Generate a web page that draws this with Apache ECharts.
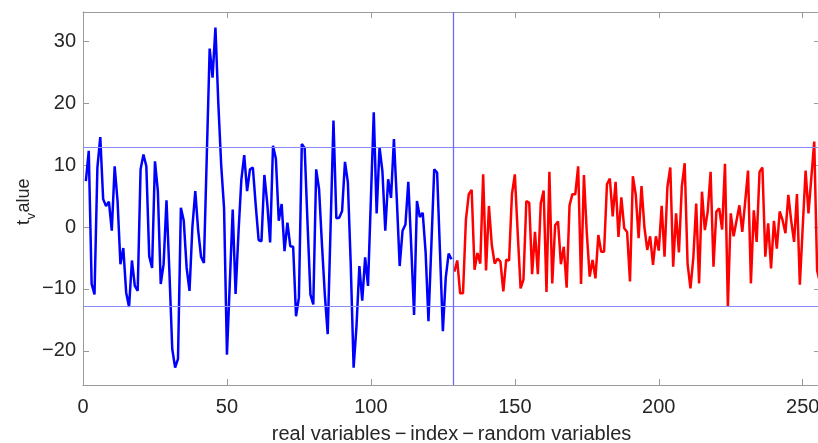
<!DOCTYPE html>
<html><head><meta charset="utf-8">
<script src="https://cdn.jsdelivr.net/npm/echarts@6/dist/echarts.min.js"></script>
<style>html,body{margin:0;padding:0;background:#fff}#c{width:818px;height:443px}</style>
</head><body><div id="c"></div>
<script>
// t values of the real variables (index 1..128)
const blueValues = [
  7.4, 12.3, -9.2, -10.9, 9.6, 14.5, 4.5, 3.4, 4.1, -0.6,
  9.8, 4.2, -6.0, -3.4, -10.6, -12.9, -5.4, -9.5, -10.3, 9.3,
  11.7, 9.8, -4.7, -6.6, 10.6, 5.8, -9.2, -6.0, 4.3, -7.1,
  -19.7, -22.7, -21.3, 3.1, 1.0, -6.6, -10.3, 0.0, 5.8, -0.5,
  -4.8, -5.8, 11.5, 28.8, 24.1, 32.2, 20.0, 10.0, 3.0, -20.6,
  -9.0, 2.8, -10.8, -1.0, 7.6, 11.6, 5.8, 9.3, 9.6, 3.5,
  -2.1, -2.3, 8.4, 3.8, -2.5, 13.1, 11.0, 1.0, 3.7, -3.9,
  0.7, -3.1, -3.2, -14.4, -11.4, 13.4, 12.7, 0.5, -10.9, -12.5,
  9.3, 6.1, -2.8, -10.9, -17.3, 0.0, 17.2, 1.4, 1.5, 2.6,
  10.5, 7.2, -6.0, -22.7, -16.0, -6.3, -11.9, -4.9, -9.5, 4.5,
  18.5, 2.2, 12.9, 9.0, -0.6, 7.7, 4.7, 14.2, 4.5, -6.3,
  -0.6, 0.4, 7.3, -3.0, -14.2, 4.2, 1.6, 2.3, -4.0, -15.2,
  -3.0, 9.3, 8.8, -4.0, -16.8, -8.2, -4.3, -5.2
];
// t values of the random variables (index 129..256)
const redValues = [
  -7.2, -5.4, -10.7, -10.7, 1.1, 5.3, 6.0, -6.9, -4.2, -5.9,
  8.5, -7.0, 3.4, -2.9, -5.9, -5.1, -5.6, -10.4, -5.3, -5.4,
  5.3, 8.5, -1.0, -9.9, -8.5, 4.2, 3.9, -7.6, -0.8, -7.6,
  3.8, 5.9, -10.5, 8.9, -9.1, 0.3, 0.9, -6.0, -3.2, -9.8,
  3.5, 5.3, 5.3, 9.8, -9.2, 8.4, -1.0, -8.0, -5.3, -8.3,
  -1.3, -4.0, -4.0, 6.9, 7.8, 1.7, 7.3, -1.6, 4.8, -0.2,
  -0.8, -8.8, 8.2, 5.2, -1.8, 6.6, 0.0, -3.7, -1.5, -6.1,
  -1.5, -3.8, 3.4, -4.8, 6.5, 9.6, -6.4, 2.2, -4.1, 6.5,
  10.3, -5.9, -9.9, -5.0, 3.8, -9.1, 5.7, -0.5, 2.5, 8.9,
  -6.4, 2.5, 3.0, -0.4, 10.2, -12.9, 2.2, -1.5, 1.0, 3.5,
  -0.8, 4.0, 9.1, -9.1, 2.7, -2.4, 8.9, 9.6, -4.8, 0.6,
  -6.7, 1.0, -3.5, 2.5, 1.1, -1.0, 5.2, 1.0, -2.4, 5.3,
  -9.3, 0.0, 9.1, 2.2, 8.0, 13.8, -7.0, -9.0
];
const xTickValues = [0, 50, 100, 150, 200, 250];
const yTickValues = [-20, -10, 0, 10, 20, 30];
const thresholdValues = [12.8, -12.8];
const splitPosition = 128.5;
const xLabel = 'real variables\u2009\u2212\u2009index\u2009\u2212\u2009random variables';

const blueData = blueValues.map((v, i) => [i + 1, v]);
const redData = redValues.map((v, i) => [blueValues.length + i + 1, v]);

const FONT = '"Liberation Sans", Arial, Helvetica, sans-serif';
const TXT = '#262626';
const FRAME = '#9a9a9a';
const minusFmt = v => String(v).replace('-', '\u2212');

function xAx(pos, labels) {
  return {
    type: 'value', min: 0, max: 256, position: pos,
    axisLine: { show: true, onZero: false, lineStyle: { color: FRAME, width: 1 } },
    axisTick: { show: true, inside: true, length: 6, customValues: xTickValues, lineStyle: { color: FRAME } },
    axisLabel: { show: labels, customValues: xTickValues, color: TXT, fontSize: 20, fontFamily: FONT, margin: 12, formatter: minusFmt },
    splitLine: { show: false }
  };
}
function yAx(pos, labels) {
  return {
    type: 'value', min: -25.5, max: 34.7, position: pos,
    axisLine: { show: true, onZero: false, lineStyle: { color: FRAME, width: 1 } },
    axisTick: { show: true, inside: true, length: 6, customValues: yTickValues, lineStyle: { color: FRAME } },
    axisLabel: { show: labels, customValues: yTickValues, color: TXT, fontSize: 20, fontFamily: FONT, margin: 7, formatter: minusFmt },
    splitLine: { show: false }
  };
}

const xMain = xAx('bottom', true);
xMain.name = xLabel;
xMain.nameLocation = 'middle';
xMain.nameGap = 39;
xMain.nameTextStyle = { color: TXT, fontSize: 20, fontFamily: FONT };

const chart = echarts.init(document.getElementById('c'), null, { renderer: 'canvas' });
chart.setOption({
  animation: false,
  backgroundColor: '#fff',
  grid: { left: 83, top: 12, width: 737, height: 373, containLabel: false, outerBoundsMode: 'none' },
  xAxis: [xMain, xAx('top', false)],
  yAxis: [yAx('left', true), yAx('right', false)],
  graphic: [{
    type: 'group', x: 29, y: 225, rotation: Math.PI / 2,
    children: [
      { type: 'text', x: 0, y: 4, style: { text: 't', fontSize: 18, fontFamily: FONT, fill: TXT, align: 'left', verticalAlign: 'bottom' } },
      { type: 'text', x: 5.5, y: 9, style: { text: 'v', fontSize: 13, fontFamily: FONT, fill: TXT, align: 'left', verticalAlign: 'bottom' } },
      { type: 'text', x: 12.5, y: 4, style: { text: 'alue', fontSize: 18, fontFamily: FONT, fill: TXT, align: 'left', verticalAlign: 'bottom' } }
    ]
  }],
  series: [
    {
      type: 'line', data: [], z: 1,
      markLine: {
        silent: true, symbol: ['none', 'none'], label: { show: false }, animation: false,
        lineStyle: { color: '#8888ff', width: 1, type: 'solid', opacity: 1 },
        data: thresholdValues.map(v => ({ yAxis: v }))
      }
    },
    {
      type: 'line', data: [], z: 1,
      markLine: {
        silent: true, symbol: ['none', 'none'], label: { show: false }, animation: false,
        lineStyle: { color: '#6a6aff', width: 1.3, type: 'solid', opacity: 1 },
        data: [{ xAxis: splitPosition }]
      }
    },
    {
      type: 'line', data: blueData, showSymbol: false, z: 3,
      lineStyle: { color: '#0000ff', width: 2.5 }, itemStyle: { color: '#0000ff' }
    },
    {
      type: 'line', data: redData, showSymbol: false, z: 3,
      lineStyle: { color: '#ff0000', width: 2.5 }, itemStyle: { color: '#ff0000' }
    }
  ]
});
</script></body></html>
